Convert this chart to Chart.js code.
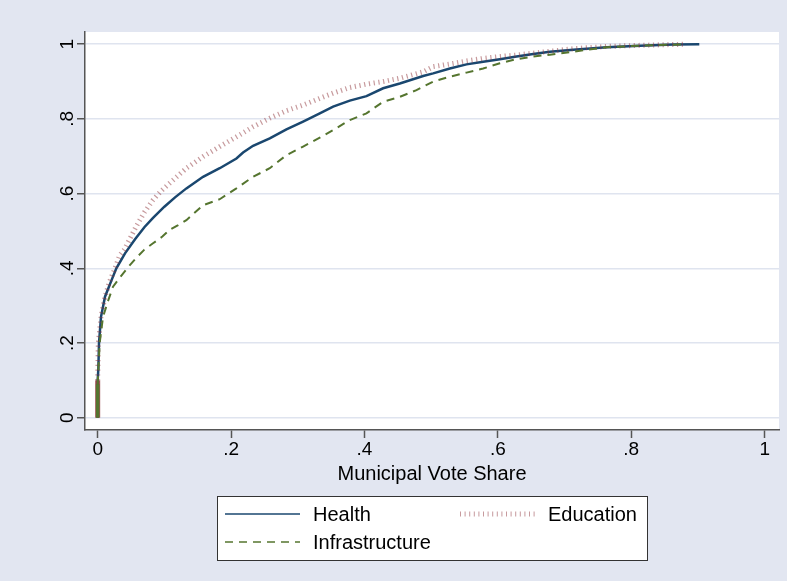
<!DOCTYPE html>
<html>
<head>
<meta charset="utf-8">
<script src="https://cdn.jsdelivr.net/npm/chart.js@4.4.1/dist/chart.umd.min.js"></script>
<style>
  html, body { margin: 0; padding: 0; background: #e2e6f1; }
  canvas { display: block; }
</style>
</head>
<body>
<canvas id="cdfChart" width="787" height="581"></canvas>
<script>
// tick positions
const xTicks = [0, 0.2, 0.4, 0.6, 0.8, 1];
const yTicks = [0, 0.2, 0.4, 0.6, 0.8, 1];

// cumulative share of municipalities
const healthX = [0, 0, 0.001, 0.002, 0.005, 0.011, 0.021, 0.028, 0.041, 0.056, 0.07, 0.083, 0.1, 0.116,
  0.133, 0.158, 0.183, 0.208, 0.218, 0.233, 0.258, 0.283, 0.308, 0.333, 0.353, 0.378, 0.403, 0.428,
  0.453, 0.488, 0.503, 0.528, 0.553, 0.578, 0.603, 0.628, 0.653, 0.678, 0.713, 0.763, 0.813, 0.863, 0.902];
const healthY = [0, 0.1, 0.13, 0.2, 0.27, 0.324, 0.369, 0.4, 0.44, 0.478, 0.51, 0.535, 0.565, 0.59,
  0.614, 0.645, 0.668, 0.694, 0.71, 0.728, 0.748, 0.772, 0.793, 0.815, 0.833, 0.849, 0.861, 0.882,
  0.895, 0.915, 0.922, 0.935, 0.946, 0.953, 0.96, 0.967, 0.974, 0.98, 0.985, 0.992, 0.996, 0.999, 1];

const educationX = [0, 0, 0.001, 0.005, 0.011, 0.018, 0.026, 0.033, 0.04, 0.05, 0.058, 0.07, 0.083, 0.095,
  0.108, 0.133, 0.158, 0.183, 0.208, 0.233, 0.258, 0.283, 0.308, 0.333, 0.353, 0.378, 0.403, 0.428,
  0.453, 0.488, 0.503, 0.528, 0.553, 0.578, 0.603, 0.628, 0.653, 0.678, 0.713, 0.763, 0.813, 0.88];
const educationY = [0, 0.1, 0.2, 0.27, 0.324, 0.365, 0.4, 0.435, 0.45, 0.485, 0.513, 0.55, 0.583, 0.607,
  0.628, 0.668, 0.699, 0.726, 0.752, 0.779, 0.802, 0.822, 0.837, 0.855, 0.869, 0.884, 0.893, 0.9,
  0.909, 0.926, 0.94, 0.947, 0.955, 0.962, 0.967, 0.971, 0.976, 0.981, 0.988, 0.994, 0.997, 1];

const infraX = [0, 0, 0.003, 0.008, 0.016, 0.023, 0.033, 0.046, 0.058, 0.07, 0.083, 0.097, 0.108, 0.12,
  0.133, 0.158, 0.183, 0.208, 0.233, 0.258, 0.283, 0.308, 0.333, 0.353, 0.378, 0.403, 0.428, 0.453,
  0.478, 0.503, 0.528, 0.553, 0.578, 0.603, 0.628, 0.653, 0.678, 0.713, 0.763, 0.813, 0.883];
const infraY = [0, 0.09, 0.2, 0.27, 0.315, 0.351, 0.375, 0.404, 0.428, 0.45, 0.467, 0.485, 0.503, 0.515,
  0.529, 0.569, 0.585, 0.614, 0.645, 0.668, 0.703, 0.726, 0.75, 0.77, 0.797, 0.815, 0.846, 0.859,
  0.877, 0.9, 0.913, 0.924, 0.935, 0.949, 0.96, 0.967, 0.972, 0.98, 0.992, 0.996, 1];

const seriesLabels = ['Health', 'Education', 'Infrastructure'];

const FONT = '"Liberation Sans", Arial, Helvetica, sans-serif';
const pts = (xs, ys) => xs.map((x, i) => ({ x: x, y: ys[i] }));
const fmt = v => v === 0 ? '0' : (v === 1 ? '1' : String(+v.toFixed(1)).replace(/^0/, ''));
// the pile of zeros at x = 0 shows up as a solid thick bar
const zeroBar = (w, c) => ({
  borderWidth: ctx => ctx.p0DataIndex === 0 ? w : undefined,
  borderDash: ctx => ctx.p0DataIndex === 0 ? [] : undefined,
  borderColor: ctx => ctx.p0DataIndex === 0 ? c : undefined
});

// background, y labels, axis title and the boxed legend
const stataFrame = {
  id: 'stataFrame',
  beforeDraw(chart) {
    const { ctx, chartArea: a } = chart;
    ctx.save();
    ctx.fillStyle = '#e2e6f1';
    ctx.fillRect(0, 0, chart.width, chart.height);
    ctx.fillStyle = '#ffffff';
    ctx.fillRect(a.left, a.top, a.right - a.left, a.bottom - a.top);
    ctx.restore();
  },
  afterDraw(chart) {
    const { ctx, chartArea: a, scales } = chart;
    ctx.save();
    ctx.fillStyle = '#000';
    ctx.font = '19px ' + FONT;
    ctx.textAlign = 'center';
    ctx.textBaseline = 'alphabetic';
    yTicks.forEach(v => {
      ctx.save();
      ctx.translate(73, scales.y.getPixelForValue(v));
      ctx.rotate(-Math.PI / 2);
      ctx.fillText(fmt(v), 0, 0);
      ctx.restore();
    });

    ctx.font = '20px ' + FONT;
    ctx.fillText('Municipal Vote Share', (a.left + a.right) / 2, 480);

    // legend box
    ctx.fillStyle = '#fff';
    ctx.fillRect(217, 496, 430, 64);
    ctx.strokeStyle = '#333';
    ctx.lineWidth = 1;
    ctx.strokeRect(217.5, 496.5, 430, 64);

    ctx.textAlign = 'left';
    chart.data.datasets.forEach((ds, i) => {
      const col = i % 2, row = Math.floor(i / 2);
      const lx = 225 + col * 235, ly = 514 + row * 28;
      ctx.save();
      ctx.strokeStyle = ds.borderColor;
      ctx.lineWidth = i === 1 ? 5 : 1.5;
      ctx.setLineDash(i === 1 ? [1, 3.6] : (ds.borderDash || []));
      ctx.beginPath();
      ctx.moveTo(lx, ly);
      ctx.lineTo(lx + 75, ly);
      ctx.stroke();
      ctx.restore();
      ctx.fillStyle = '#000';
      ctx.fillText(ds.label, lx + 88, ly + 7);
    });
    ctx.restore();
  }
};

new Chart(document.getElementById('cdfChart'), {
  type: 'scatter',
  data: {
    datasets: [{
      label: seriesLabels[0],
      data: pts(healthX, healthY),
      borderColor: '#1a476f',
      borderWidth: 2.5,
      order: 3
    }, {
      label: seriesLabels[1],
      data: pts(educationX, educationY),
      borderColor: 'rgba(144, 53, 59, 0.5)',
      borderWidth: 5,
      borderDash: [1.2, 3.6],
      borderCapStyle: 'butt',
      segment: zeroBar(5, 'rgba(144, 53, 59, 0.85)'),
      order: 2
    }, {
      label: seriesLabels[2],
      data: pts(infraX, infraY),
      borderColor: '#55752f',
      borderWidth: 2,
      borderDash: [8, 6],
      segment: zeroBar(3.5, '#55752f'),
      order: 1
    }]
  },
  options: {
    responsive: false,
    animation: false,
    showLine: true,
    elements: {
      point: { radius: 0, hoverRadius: 0 },
      line: { tension: 0, fill: false }
    },
    layout: { padding: { top: 32, right: 8, left: 0, bottom: 0 } },
    plugins: {
      legend: { display: false },
      title: { display: false },
      tooltip: { enabled: false }
    },
    scales: {
      x: {
        type: 'linear',
        min: -0.019,
        max: 1.0215,
        afterBuildTicks: s => { s.ticks = xTicks.map(v => ({ value: v })); },
        afterFit: s => { s.height = 151; },
        grid: { drawOnChartArea: false, tickLength: 8, tickColor: '#555', tickWidth: 1.5 },
        border: { display: true, color: '#555', width: 1.5 },
        ticks: {
          color: '#000',
          padding: 0,
          font: { family: FONT, size: 19 },
          callback: v => fmt(v)
        }
      },
      y: {
        type: 'linear',
        min: -0.0329,
        max: 1.0327,
        afterBuildTicks: s => { s.ticks = yTicks.map(v => ({ value: v })); },
        afterFit: s => { s.width = 85; },
        grid: { color: '#dfe4ef', lineWidth: 1.5, tickLength: 8, tickColor: '#555', tickWidth: 1.5 },
        border: { display: true, color: '#555', width: 1.5 },
        ticks: { display: false }
      }
    }
  },
  plugins: [stataFrame]
});
</script>
</body>
</html>
